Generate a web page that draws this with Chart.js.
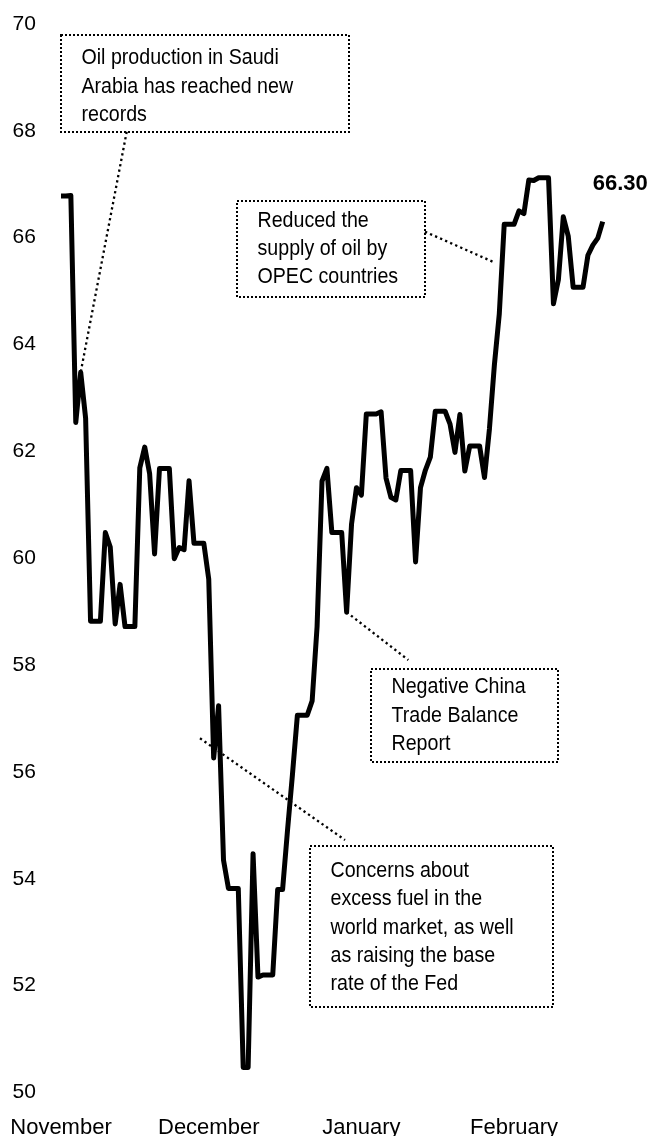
<!DOCTYPE html>
<html>
<head>
<meta charset="utf-8">
<script src="https://cdn.jsdelivr.net/npm/chart.js@4.4.1/dist/chart.umd.min.js"></script>
<style>
  html, body { margin: 0; padding: 0; background: #fff; }
  #wrap { width: 653px; height: 1136px; }
</style>
</head>
<body>
<div id="wrap"><canvas id="oilChart" width="653" height="1136"></canvas></div>
<script>
// one point per calendar day, weekends carry the last close (flat steps in the picture)
const dates = [
  'Nov 17', 'Nov 18', 'Nov 19', 'Nov 20', 'Nov 21', 'Nov 22', 'Nov 23', 'Nov 24', 'Nov 25', 'Nov 26',
  'Nov 27', 'Nov 28', 'Nov 29', 'Nov 30',
  'Dec 1', 'Dec 2', 'Dec 3', 'Dec 4', 'Dec 5', 'Dec 6', 'Dec 7', 'Dec 8', 'Dec 9', 'Dec 10',
  'Dec 11', 'Dec 12', 'Dec 13', 'Dec 14', 'Dec 15', 'Dec 16', 'Dec 17', 'Dec 18', 'Dec 19', 'Dec 20',
  'Dec 21', 'Dec 22', 'Dec 23', 'Dec 24', 'Dec 25', 'Dec 26', 'Dec 27', 'Dec 28', 'Dec 29', 'Dec 30', 'Dec 31',
  'Jan 1', 'Jan 2', 'Jan 3', 'Jan 4', 'Jan 5', 'Jan 6', 'Jan 7', 'Jan 8', 'Jan 9', 'Jan 10',
  'Jan 11', 'Jan 12', 'Jan 13', 'Jan 14', 'Jan 15', 'Jan 16', 'Jan 17', 'Jan 18', 'Jan 19', 'Jan 20',
  'Jan 21', 'Jan 22', 'Jan 23', 'Jan 24', 'Jan 25', 'Jan 26', 'Jan 27', 'Jan 28', 'Jan 29', 'Jan 30', 'Jan 31',
  'Feb 1', 'Feb 2', 'Feb 3', 'Feb 4', 'Feb 5', 'Feb 6', 'Feb 7', 'Feb 8', 'Feb 9', 'Feb 10',
  'Feb 11', 'Feb 12', 'Feb 13', 'Feb 14', 'Feb 15', 'Feb 16', 'Feb 17', 'Feb 18', 'Feb 19', 'Feb 20',
  'Feb 21', 'Feb 22', 'Feb 23', 'Feb 24', 'Feb 25', 'Feb 26', 'Feb 27', 'Feb 28',
  'Mar 1', 'Mar 2', 'Mar 3', 'Mar 4', 'Mar 5', 'Mar 6', 'Mar 7'
];

const prices = [
  66.78, 66.78, 66.79, 62.54, 63.48, 62.62, 58.82, 58.82, 58.82, 60.48,
  60.21, 58.77, 59.51, 58.72,
  58.72, 58.72, 61.69, 62.08, 61.58, 60.08, 61.68, 61.68, 61.68, 59.99,
  60.20, 60.16, 61.45, 60.28, 60.28, 60.28, 59.61, 56.26, 57.24, 54.35,
  53.82, 53.82, 53.82, 50.47, 50.47, 54.47, 52.16, 52.20, 52.20, 52.20, 53.80,
  53.80, 54.91, 55.95, 57.06, 57.06, 57.06, 57.33, 58.72, 61.44, 61.68,
  60.48, 60.48, 60.48, 58.99, 60.64, 61.32, 61.18, 62.70, 62.70, 62.70,
  62.74, 61.50, 61.14, 61.09, 61.64, 61.64, 61.64, 59.93, 61.32, 61.65, 61.89,
  62.75, 62.75, 62.75, 62.51, 61.98, 62.69, 61.63, 62.10, 62.10, 62.10,
  61.51, 62.42, 63.61, 64.57, 66.25, 66.25, 66.25, 66.50, 66.45, 67.08,
  67.07, 67.12, 67.12, 67.12, 64.76, 65.21, 66.39, 66.03,
  65.07, 65.07, 65.07, 65.67, 65.86, 65.99, 66.30
];

const tickDates = ['Nov 17', 'Dec 17', 'Jan 17', 'Feb 17'];
const monthLabels = ['November', 'December', 'January', 'February'];
const lastLabel = '66.30';

const noteSaudi = ['Oil production in Saudi', 'Arabia has reached new', 'records'];
const noteOpec = ['Reduced the', 'supply of oil by', 'OPEC countries'];
const noteChina = ['Negative China', 'Trade Balance', 'Report'];
const noteFed = ['Concerns about', 'excess fuel in the', 'world market, as well', 'as raising the base', 'rate of the Fed'];

const FONT = '"Liberation Sans", Arial, sans-serif';

// dotted text boxes with dotted leader lines
const calloutPlugin = {
  id: 'callouts',
  afterDraw(chart) {
    const ctx = chart.ctx;
    const xs = chart.scales.x;
    const ys = chart.scales.y;
    const at = (d) => {
      const i = dates.indexOf(d);
      return [xs.getPixelForValue(i), ys.getPixelForValue(prices[i])];
    };

    const callouts = [
      { lines: noteSaudi, box: [61, 35, 288, 97], dy: 3, leader: [[126.7, 131.7], at('Nov 21')] },
      { lines: noteOpec, box: [237, 201, 188, 96], dy: 0, leader: [[425, 231.7], [495, 262.7]] },
      { lines: noteChina, box: [371, 669, 187, 93], dy: 0, leader: [at('Jan 14'), [408.3, 660]] },
      { lines: noteFed, box: [310, 846, 243, 161], dy: 1, leader: [[200, 738.3], [345, 840]] }
    ];

    ctx.save();
    ctx.strokeStyle = '#000';
    ctx.fillStyle = '#000';
    callouts.forEach(c => {
      const [bx, by, bw, bh] = c.box;
      ctx.lineWidth = 2;
      ctx.setLineDash([2, 2]);
      ctx.strokeRect(bx, by, bw, bh);

      ctx.lineWidth = 2.3;
      ctx.setLineDash([2.3, 3.2]);
      ctx.beginPath();
      ctx.moveTo(c.leader[0][0], c.leader[0][1]);
      ctx.lineTo(c.leader[1][0], c.leader[1][1]);
      ctx.stroke();

      // the text in the picture is a little condensed
      ctx.setLineDash([]);
      ctx.save();
      ctx.scale(0.9, 1);
      ctx.font = '21.8px ' + FONT;
      ctx.textAlign = 'left';
      ctx.textBaseline = 'middle';
      const lh = 28.3;
      let y = by + c.dy + (bh - (c.lines.length - 1) * lh) / 2;
      c.lines.forEach(t => {
        ctx.fillText(t, (bx + 20.5) / 0.9, y);
        y += lh;
      });
      ctx.restore();
    });

    // last value label
    const end = at(dates[dates.length - 1]);
    ctx.font = 'bold 22px ' + FONT;
    ctx.textAlign = 'left';
    ctx.textBaseline = 'middle';
    ctx.fillText(lastLabel, end[0] - 10, end[1] - 38);
    ctx.restore();
  }
};

new Chart(document.getElementById('oilChart'), {
  type: 'line',
  data: {
    labels: dates,
    datasets: [{
      data: prices,
      borderColor: '#000',
      borderWidth: 5,
      borderJoinStyle: 'round',
      borderCapStyle: 'butt',
      pointRadius: 0,
      tension: 0,
      fill: false
    }]
  },
  options: {
    responsive: false,
    animation: false,
    devicePixelRatio: 1,
    layout: { padding: { left: 12.5, right: 50.3, top: 23.9, bottom: 0 } },
    plugins: {
      legend: { display: false },
      tooltip: { enabled: false }
    },
    scales: {
      x: {
        type: 'category',
        grid: { display: false, drawTicks: false },
        border: { display: false },
        afterBuildTicks: (s) => {
          s.ticks = s.ticks.filter(t => tickDates.includes(dates[t.value]));
        },
        afterFit: (s) => {
          s.height = 43.5;
          s.paddingLeft = 0;
          s.paddingRight = 0;
        },
        ticks: {
          autoSkip: false,
          maxRotation: 0,
          minRotation: 0,
          padding: 22,
          color: '#000',
          font: { family: FONT, size: 22 },
          callback: (v) => monthLabels[tickDates.indexOf(dates[v])]
        }
      },
      y: {
        min: 50,
        max: 70,
        grid: { display: false, drawTicks: false },
        border: { display: false },
        afterFit: (s) => { s.width = 48.5; },
        ticks: {
          stepSize: 2,
          crossAlign: 'far',
          padding: 0,
          color: '#000',
          font: { family: FONT, size: 21 }
        }
      }
    }
  },
  plugins: [calloutPlugin]
});
</script>
</body>
</html>
